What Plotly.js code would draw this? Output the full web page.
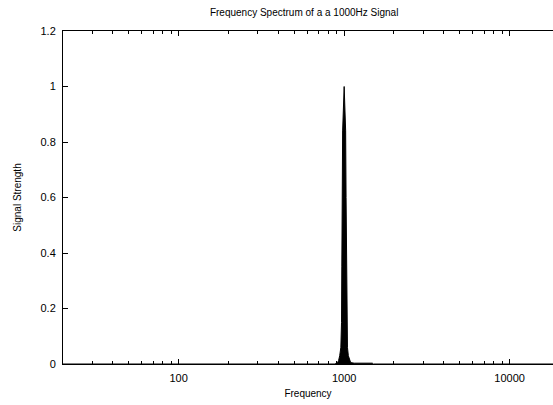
<!DOCTYPE html>
<html>
<head>
<meta charset="utf-8">
<script src="https://cdn.plot.ly/plotly-3.0.1.min.js"></script>
<style>html,body{margin:0;padding:0;overflow:hidden;background:#fff}</style>
</head>
<body>
<div id="chart" style="width:553px;height:405px"></div>
<script>
// Spectrum samples (Hz, normalised magnitude)
const frequency = [20, 100, 500, 880, 900, 912, 925, 940, 955, 964, 968, 974, 979, 1000, 1021, 1027, 1033, 1037, 1047, 1060, 1080, 1095, 1150, 1300, 1480, 1500, 5000, 20000];
const strength  = [0, 0, 0, 0, 0.003, 0.005, 0.012, 0.03, 0.06, 0.15, 0.35, 0.6, 0.84, 1.0, 0.84, 0.6, 0.35, 0.15, 0.06, 0.03, 0.012, 0.005, 0.003, 0.003, 0.003, 0, 0, 0];
const majorTicks = [100, 1000, 10000];
const majorLabels = ["100", "1000", "10000"];
const minorTicks = [20,30,40,50,60,70,80,90,200,300,400,500,600,700,800,900,2000,3000,4000,5000,6000,7000,8000,9000];
const yTicks = [0, 0.2, 0.4, 0.6, 0.8, 1, 1.2];
const yLabels = ["0", "0.2", "0.4", "0.6", "0.8", "1", "1.2"];

const font = {family: "Liberation Sans, Arial, sans-serif", size: 11, color: "#000"};

const trace = {
  x: frequency, y: strength, type: "scatter", mode: "lines",
  fill: "tozeroy", fillcolor: "#000",
  line: {color: "#000", width: 1},
  hoverinfo: "skip"
};

const layout = {
  width: 553, height: 405,
  margin: {l: 63, r: 0, t: 31, b: 41},
  paper_bgcolor: "#fff", plot_bgcolor: "#fff",
  font: font,
  showlegend: false,
  title: {text: "Frequency Spectrum of a a 1000Hz Signal", font: {family: font.family, size: 10, color: "#000"},
          x: 0.55, xref: "container", xanchor: "center", y: 0.97, yref: "container", yanchor: "middle"},
  xaxis: {
    type: "log", range: [Math.log10(20), 4.262],
    tickmode: "array", tickvals: majorTicks, ticktext: majorLabels,
    ticks: "inside", ticklen: 5, tickwidth: 1, tickcolor: "#000",
    showline: true, linecolor: "#000", linewidth: 1, mirror: "ticks",
    showgrid: false, zeroline: false,
    tickfont: {family: font.family, size: 11, color: "#000"},
    ticklabelstandoff: 4,
    minor: {tickmode: "array", tickvals: minorTicks, ticks: "inside", ticklen: 3, tickwidth: 1, tickcolor: "#000", showgrid: false},
    title: {text: "Frequency", font: {family: font.family, size: 10, color: "#000"}, standoff: 6},
    automargin: false
  },
  yaxis: {
    range: [0, 1.2],
    tickmode: "array", tickvals: yTicks, ticktext: yLabels,
    ticks: "inside", ticklen: 5, tickwidth: 1, tickcolor: "#000",
    showline: true, linecolor: "#000", linewidth: 1, mirror: false,
    showgrid: false, zeroline: false,
    tickfont: {family: font.family, size: 11, color: "#000"},
    ticklabelstandoff: 4,
    title: {text: "Signal Strength", font: {family: font.family, size: 10, color: "#000"}, standoff: 17},
    automargin: false
  }
};

Plotly.newPlot("chart", [trace], layout, {displayModeBar: false, staticPlot: true});
</script>
</body>
</html>
